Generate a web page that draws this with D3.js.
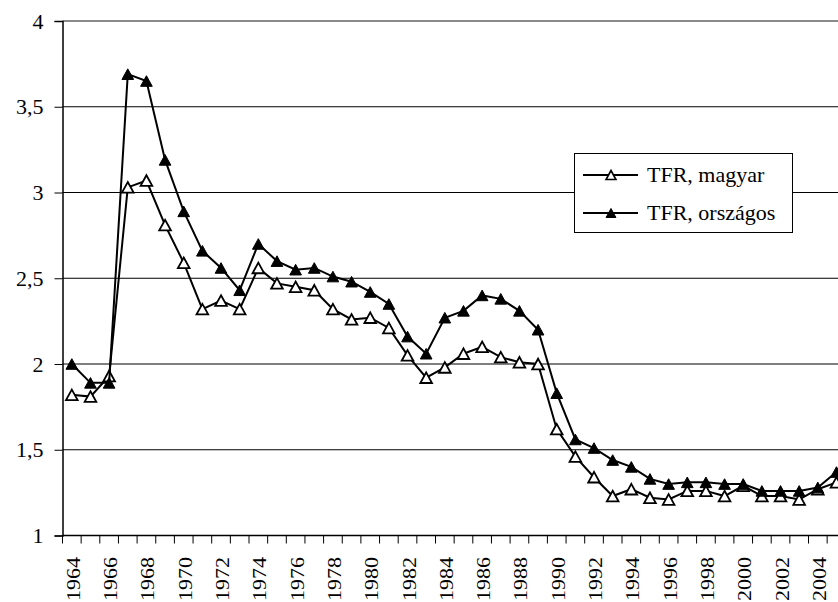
<!DOCTYPE html>
<html>
<head>
<meta charset="utf-8">
<script src="https://cdn.jsdelivr.net/npm/d3@7"></script>
<style>
  body { margin: 0; background: #fff; }
  svg { display: block; }
  svg text { font-family: "Liberation Serif", "Times New Roman", serif !important; fill: #000; }
</style>
</head>
<body>
<div id="chart"></div>
<script>
// years on the category axis
var years = d3.range(1964, 2006)
// TFR, magyar (hollow triangles)
var magyar = [1.82, 1.81, 1.93, 3.03, 3.07, 2.81, 2.59, 2.32, 2.37, 2.32,
  2.56, 2.47, 2.45, 2.43, 2.32, 2.26, 2.27, 2.21, 2.05, 1.92,
  1.98, 2.06, 2.10, 2.04, 2.01, 2.00, 1.62, 1.46, 1.34, 1.23,
  1.27, 1.22, 1.21, 1.26, 1.26, 1.23, 1.29, 1.23, 1.23, 1.21,
  1.27, 1.31]
// TFR, országos (filled triangles)
var orszagos = [2.00, 1.89, 1.89, 3.69, 3.65, 3.19, 2.89, 2.66, 2.56, 2.43,
  2.70, 2.60, 2.55, 2.56, 2.51, 2.48, 2.42, 2.35, 2.16, 2.06,
  2.27, 2.31, 2.40, 2.38, 2.31, 2.20, 1.83, 1.56, 1.51, 1.44,
  1.40, 1.33, 1.30, 1.31, 1.31, 1.30, 1.30, 1.26, 1.26, 1.26,
  1.28, 1.37]
var yTicks = [1, 1.5, 2, 2.5, 3, 3.5, 4]
var xLabels = d3.range(1964, 2006, 2)
var seriesNames = ["TFR, magyar", "TFR, országos"]

var svgWidth = 838
var svgHeight = 602
var plotLeft = 62.5, plotTop = 21, plotBottom = 535.5
var plotRight = plotLeft + years.length * 18.65

var svg = d3.select('#chart')
  .append('svg')
  .attr('width', svgWidth)
  .attr('height', svgHeight)

var xScale = d3.scaleBand()
  .domain(years)
  .range([plotLeft, plotRight])
  .padding(0)

var yScale = d3.scaleLinear()
  .domain([1, 4])
  .range([plotBottom, plotTop])

var cx = d => xScale(d) + xScale.bandwidth() / 2

//gridlines
svg.append('g')
  .selectAll('line')
  .data(yTicks.filter(t => t > 1 && t < 4))
  .enter()
  .append('line')
  .attr('x1', plotLeft)
  .attr('x2', plotRight)
  .attr('y1', d => yScale(d))
  .attr('y2', d => yScale(d))
  .attr('stroke', '#000')
  .attr('stroke-width', 1)

//plot area top border
svg.append('line')
  .attr('x1', plotLeft).attr('x2', plotRight)
  .attr('y1', yScale(4)).attr('y2', yScale(4))
  .attr('stroke', '#8a8a8a')
  .attr('stroke-width', 2)

//y axis
var yAxis = d3.axisLeft(yScale)
  .tickValues(yTicks)
  .tickSize(8)
  .tickPadding(11)
  .tickFormat(d => String(d).replace('.', ','))

svg.append('g')
  .attr('transform', `translate(${plotLeft}, 0)`)
  .call(yAxis)
  .call(g => g.select('.domain').attr('stroke-width', 1.5))
  .call(g => g.selectAll('text').attr('font-size', 22))

//x axis line and ticks at category boundaries
svg.append('line')
  .attr('x1', plotLeft).attr('x2', plotRight)
  .attr('y1', plotBottom).attr('y2', plotBottom)
  .attr('stroke', '#000')
  .attr('stroke-width', 1.5)

svg.append('g')
  .selectAll('line')
  .data(years.concat([null]))
  .enter()
  .append('line')
  .attr('x1', d => d === null ? plotRight : xScale(d))
  .attr('x2', d => d === null ? plotRight : xScale(d))
  .attr('y1', plotBottom)
  .attr('y2', plotBottom + 8)
  .attr('stroke', '#000')
  .attr('stroke-width', 1)

svg.append('g')
  .selectAll('text')
  .data(xLabels)
  .enter()
  .append('text')
  .attr('transform', d => `translate(${cx(d) + 1.5}, 557) rotate(-90) scale(1, 0.85)`)
  .attr('text-anchor', 'end')
  .attr('dy', '0.35em')
  .attr('font-size', 22)
  .text(d => d)

//triangle marker centred on the point
function triangle(s) {
  return `M0,${-s}L${s * 1.1},${s}L${-s * 1.1},${s}Z`
}

var line = d3.line()
  .x((d, i) => cx(years[i]))
  .y(d => yScale(d))

function drawSeries(values, filled) {
  svg.append('path')
    .datum(values)
    .attr('d', line)
    .attr('fill', 'none')
    .attr('stroke', '#000')
    .attr('stroke-width', 2)

  svg.append('g')
    .selectAll('path')
    .data(values)
    .enter()
    .append('path')
    .attr('d', triangle(5.3))
    .attr('transform', (d, i) => `translate(${cx(years[i])}, ${yScale(d)})`)
    .attr('fill', filled ? '#000' : '#fff')
    .attr('stroke', '#000')
    .attr('stroke-width', filled ? 1 : 1.8)
}

drawSeries(magyar, false)
drawSeries(orszagos, true)

//legend
var legend = svg.append('g')

legend.append('rect')
  .attr('x', 574.5)
  .attr('y', 153.5)
  .attr('width', 218)
  .attr('height', 79)
  .attr('fill', '#fff')
  .attr('stroke', '#000')
  .attr('stroke-width', 1)

var entries = legend.selectAll('.entry')
  .data(seriesNames)
  .enter()
  .append('g')
  .attr('class', 'entry')
  .attr('transform', (d, i) => `translate(583, ${175 + i * 38})`)

entries.append('line')
  .attr('x1', 0).attr('x2', 55)
  .attr('stroke', '#000')
  .attr('stroke-width', 2)

entries.append('path')
  .attr('d', triangle(4.5))
  .attr('transform', 'translate(28, 0)')
  .attr('fill', (d, i) => i ? '#000' : '#fff')
  .attr('stroke', '#000')
  .attr('stroke-width', (d, i) => i ? 1 : 1.6)

entries.append('text')
  .attr('x', 64)
  .attr('dy', '0.33em')
  .attr('font-size', 22)
  .text(d => d)
</script>
</body>
</html>
